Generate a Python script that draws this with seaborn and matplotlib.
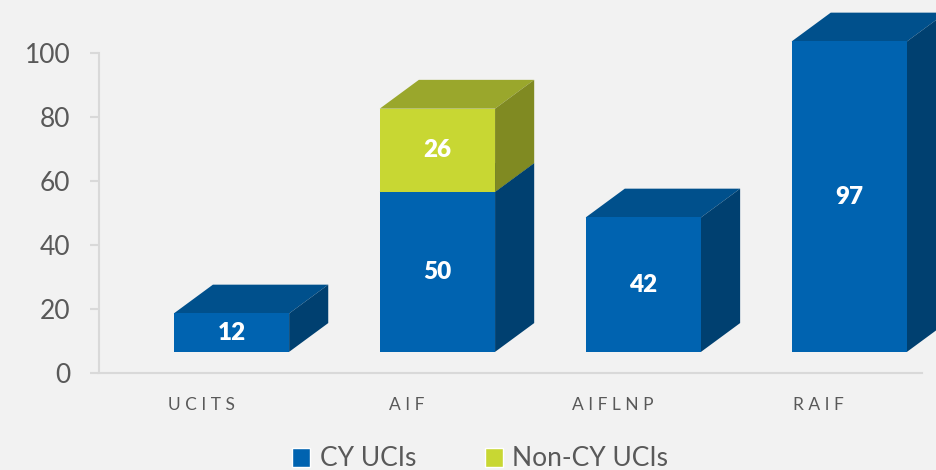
import matplotlib
matplotlib.use("Agg")
import matplotlib.pyplot as plt
import pandas as pd
import seaborn as sns
from matplotlib.patches import Patch, Polygon

categories = ["UCITS", "AIF", "AIFLNP", "RAIF"]
tick_labels = ["U C I T S", "A I F", "A I F L N P", "R A I F"]
cy_ucis = [12, 50, 42, 97]
non_cy_ucis = [0, 26, 0, 0]
series_names = ["CY UCIs", "Non-CY UCIs"]

FRONT = ["#0063B0", "#C8D733"]
TOP = ["#00508C", "#9AA72C"]
SIDE = ["#004070", "#808A22"]
BG = "#F2F2F2"
AXIS = "#D9D9D9"
TEXT = "#595959"

# fake 3d: floor lift and depth offset, in data units
FLOOR = 6.6
DX, DY = 0.19, 9.0
# category labels sit a bit left of the bar fronts (3d floor)
LABEL_SHIFT = -0.148

sns.set_theme(style="white")
plt.rcParams["font.family"] = ["Lato", "DejaVu Sans"]

fig = plt.figure(figsize=(9.36, 4.70), dpi=100, facecolor=BG)
ax = fig.add_axes([0.1058, 0.2064, 0.879, 0.6809])
ax.set_facecolor(BG)

df = pd.DataFrame({"category": categories, "cy": cy_ucis, "non_cy": non_cy_ucis})
sns.barplot(data=df, x="category", y="cy", color=FRONT[0], width=0.56,
            saturation=1, errorbar=None, ax=ax)
sns.barplot(data=df, x="category", y="non_cy", color=FRONT[1], width=0.56,
            saturation=1, errorbar=None, ax=ax)

blue = ax.patches[:len(categories)]
green = ax.patches[len(categories):2 * len(categories)]


def add_faces(p, k, z):
    x0 = p.get_x()
    x1 = x0 + p.get_width()
    y0 = p.get_y()
    y1 = y0 + p.get_height()
    ax.add_patch(Polygon([(x0, y1), (x1, y1), (x1 + DX, y1 + DY), (x0 + DX, y1 + DY)],
                         fc=TOP[k], ec="none", clip_on=False, zorder=z))
    ax.add_patch(Polygon([(x1, y0), (x1 + DX, y0 + DY), (x1 + DX, y1 + DY), (x1, y1)],
                         fc=SIDE[k], ec="none", clip_on=False, zorder=z))


for b, g, v, w in zip(blue, green, cy_ucis, non_cy_ucis):
    b.set_y(FLOOR)
    b.set_clip_on(False)
    b.set_zorder(3)
    b.set_edgecolor("none")
    add_faces(b, 0, 2)
    cx = b.get_x() + b.get_width() / 2
    ax.text(cx, FLOOR + v / 2, str(v), ha="center", va="center", color="white",
            fontsize=17.5, fontweight="heavy", zorder=10)
    g.set_y(FLOOR + b.get_height())
    if w > 0:
        g.set_clip_on(False)
        g.set_zorder(5)
        g.set_edgecolor("none")
        add_faces(g, 1, 4)
        ax.text(cx, FLOOR + v + w / 2, str(w), ha="center", va="center", color="white",
                fontsize=17.5, fontweight="heavy", zorder=10)
    else:
        g.set_visible(False)

ax.set_ylim(0, 100)
ax.set_xlim(-0.643, 3.352)
ax.set_yticks(range(0, 101, 20))
ax.set_xticks([i + LABEL_SHIFT for i in range(len(categories))], tick_labels)
ax.set_xlabel("")
ax.set_ylabel("")

for s in ["top", "right"]:
    ax.spines[s].set_visible(False)
for s in ["left", "bottom"]:
    ax.spines[s].set_color(AXIS)
    ax.spines[s].set_linewidth(1.5)

ax.tick_params(axis="y", left=True, length=6.5, width=1.5, color=AXIS, pad=14,
               labelsize=19, labelcolor=TEXT)
ax.tick_params(axis="x", bottom=False, length=0, pad=17, labelsize=12.5, labelcolor=TEXT)

handles = [Patch(fc=FRONT[0]), Patch(fc=FRONT[1])]
fig.legend(handles, series_names, loc="center", bbox_to_anchor=(0.513, 1 - 459 / 470),
           ncol=2, frameon=False, fontsize=19, handlelength=0.7, handleheight=0.7,
           handletextpad=0.35, columnspacing=2.6, labelcolor=TEXT)

fig.savefig("out.png", dpi=100, facecolor=BG)
